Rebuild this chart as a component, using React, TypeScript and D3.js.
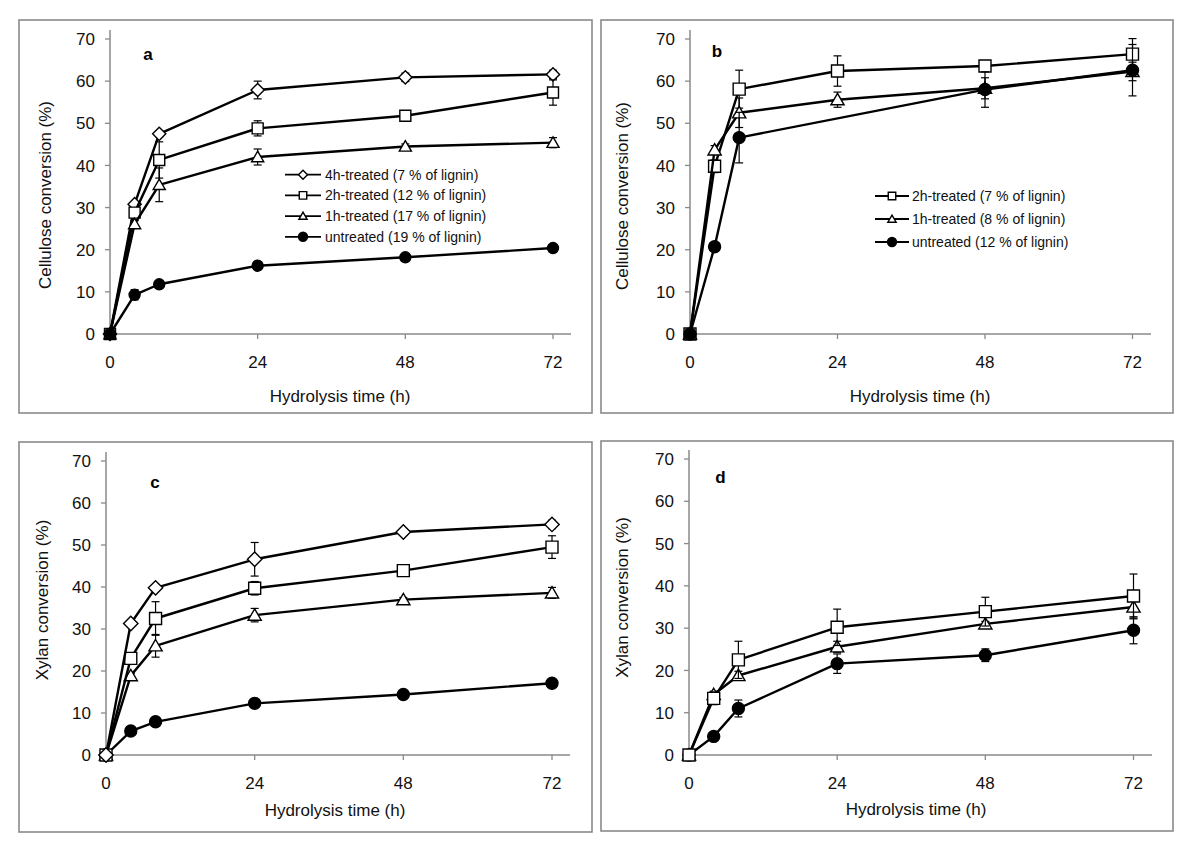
import { useEffect, useRef } from "react";
import * as d3 from "d3";

const hours = [0, 4, 8, 24, 48, 72];
const xTicks = [0, 24, 48, 72];
const yTicks = [0, 10, 20, 30, 40, 50, 60, 70];

// panel a - cellulose conversion
const celA4h = [0, 30.8, 47.5, 57.9, 60.9, 61.6];
const celA4hErr = [0, 0.6, 0.7, 2.1, 1.0, 1.0];
const celA2h = [0, 28.8, 41.3, 48.8, 51.8, 57.3];
const celA2hErr = [0, 0.8, 4.3, 1.8, 0.8, 3.0];
const celA1h = [0, 26.1, 35.4, 42.0, 44.5, 45.4];
const celA1hErr = [0, 0.8, 4.0, 1.9, 0.6, 1.2];
const celAUn = [0, 9.3, 11.8, 16.2, 18.2, 20.4];
const celAUnErr = [0, 1.2, 0.6, 0.8, 0.5, 0.5];
const legendA = [
  "4h-treated (7 % of lignin)",
  "2h-treated (12 % of lignin)",
  "1h-treated (17 % of lignin)",
  "untreated (19 % of lignin)",
];

// panel b - cellulose conversion
const celB2h = [0, 39.8, 58.1, 62.4, 63.6, 66.4];
const celB2hErr = [0, 1.5, 4.5, 3.6, 1.0, 3.7];
const celB1h = [0, 43.7, 52.5, 55.6, 58.3, 62.3];
const celB1hErr = [0, 1.0, 3.5, 1.8, 2.5, 2.2];
const celBUn = [0, 20.7, 46.6, null, 58.0, 62.6];
const celBUnErr = [0, 0.8, 6.0, 0, 4.2, 6.1];
const celBUnXErr = [0, 0.8, 0, 0, 0, 0];
const legendB = [
  "2h-treated (7 % of lignin)",
  "1h-treated (8 % of lignin)",
  "untreated (12 % of lignin)",
];

// panel c - xylan conversion
const xylC4h = [0, 31.3, 39.8, 46.6, 53.1, 54.9];
const xylC4hErr = [0, 0.5, 0.6, 4.0, 0.8, 1.0];
const xylC2h = [0, 23.0, 32.5, 39.7, 43.9, 49.5];
const xylC2hErr = [0, 0.5, 4.0, 1.6, 0.5, 2.7];
const xylC1h = [0, 18.9, 26.0, 33.3, 37.0, 38.6];
const xylC1hErr = [0, 0.5, 2.7, 1.6, 0.5, 1.3];
const xylCUn = [0, 5.7, 7.9, 12.3, 14.4, 17.1];
const xylCUnErr = [0, 0.3, 0.4, 0.6, 0.4, 0.4];

// panel d - xylan conversion
const xylD2h = [0, 13.4, 22.5, 30.2, 33.9, 37.6];
const xylD2hErr = [0, 1.5, 4.4, 4.3, 3.4, 5.2];
const xylD1h = [0, 14.3, 18.8, 25.6, 31.0, 35.0];
const xylD1hErr = [0, 0.8, 1.0, 1.3, 0.6, 2.8];
const xylDUn = [0, 4.4, 11.0, 21.6, 23.6, 29.5];
const xylDUnErr = [0, 0.5, 2.0, 2.3, 1.5, 3.2];

type Marker = "diamond" | "square" | "triangle" | "circle";
interface Series {
  values: (number | null)[];
  err: number[];
  xErr?: number[];
  marker: Marker;
  label?: string;
}

const FONT = "'Liberation Sans', Arial, sans-serif";
const GREY = "#8a8a8a";

const panels = [
  {
    letter: "a",
    frame: [19, 20, 592, 413],
    xr: [110, 553], xEnd: 571, yr: [334, 39], yTop: 30,
    letterPos: [148, 54],
    yTitle: "Cellulose conversion (%)", yTitlePos: [45, 195],
    xTitlePos: [340, 396],
    msize: 11,
    series: [
      { values: celA4h, err: celA4hErr, marker: "diamond", label: legendA[0] },
      { values: celA2h, err: celA2hErr, marker: "square", label: legendA[1] },
      { values: celA1h, err: celA1hErr, marker: "triangle", label: legendA[2] },
      { values: celAUn, err: celAUnErr, marker: "circle", label: legendA[3] },
    ] as Series[],
    legend: { x1: 285, x2: 321, mx: 303, tx: 325, y: 174.7, dy: 20.7 },
  },
  {
    letter: "b",
    frame: [601, 20, 1173, 413],
    xr: [690, 1132.5], xEnd: 1151, yr: [334, 39], yTop: 30,
    letterPos: [717, 51],
    yTitle: "Cellulose conversion (%)", yTitlePos: [622, 196],
    xTitlePos: [920, 396],
    msize: 12,
    series: [
      { values: celB2h, err: celB2hErr, marker: "square", label: legendB[0] },
      { values: celB1h, err: celB1hErr, marker: "triangle", label: legendB[1] },
      { values: celBUn, err: celBUnErr, xErr: celBUnXErr, marker: "circle", label: legendB[2] },
    ] as Series[],
    legend: { x1: 875, x2: 909, mx: 892, tx: 912, y: 196, dy: 23 },
  },
  {
    letter: "c",
    frame: [19, 442, 592, 832],
    xr: [106, 552], xEnd: 570, yr: [755, 461], yTop: 452,
    letterPos: [155, 482],
    yTitle: "Xylan conversion (%)", yTitlePos: [42, 600],
    xTitlePos: [335, 810],
    msize: 12,
    series: [
      { values: xylCUn, err: xylCUnErr, marker: "circle" },
      { values: xylC1h, err: xylC1hErr, marker: "triangle" },
      { values: xylC2h, err: xylC2hErr, marker: "square" },
      { values: xylC4h, err: xylC4hErr, marker: "diamond" },
    ] as Series[],
    legend: null,
  },
  {
    letter: "d",
    frame: [601, 441, 1173, 831],
    xr: [689, 1133.5], xEnd: 1152, yr: [755, 459], yTop: 450,
    letterPos: [720.5, 477],
    yTitle: "Xylan conversion (%)", yTitlePos: [622, 597.5],
    xTitlePos: [916, 809],
    msize: 12,
    series: [
      { values: xylDUn, err: xylDUnErr, marker: "circle" },
      { values: xylD1h, err: xylD1hErr, marker: "triangle" },
      { values: xylD2h, err: xylD2hErr, marker: "square" },
    ] as Series[],
    legend: null,
  },
];

function markerPath(m: Marker, cx: number, cy: number, s: number) {
  const h = s / 2;
  const p = d3.path();
  if (m === "diamond") {
    const d = h * 1.2;
    p.moveTo(cx, cy - d); p.lineTo(cx + d, cy); p.lineTo(cx, cy + d); p.lineTo(cx - d, cy); p.closePath();
  } else if (m === "square") {
    p.rect(cx - h, cy - h, s, s);
  } else if (m === "triangle") {
    p.moveTo(cx, cy - h * 1.05); p.lineTo(cx + h * 1.1, cy + h * 0.85); p.lineTo(cx - h * 1.1, cy + h * 0.85); p.closePath();
  } else {
    p.arc(cx, cy, h, 0, Math.PI * 2);
  }
  return p.toString();
}

function drawMarker(g: d3.Selection<SVGGElement, unknown, null, undefined>, m: Marker, cx: number, cy: number, s: number) {
  g.append("path")
    .attr("d", markerPath(m, cx, cy, s))
    .attr("fill", m === "circle" ? "#000" : "#fff")
    .attr("stroke", "#000")
    .attr("stroke-width", 1.4);
}

export default function App() {
  const ref = useRef<SVGSVGElement | null>(null);

  useEffect(() => {
    if (!ref.current) return;
    const svg = d3.select(ref.current);
    svg.selectAll("*").remove();

    svg.append("rect").attr("width", 1200).attr("height", 851).attr("fill", "#fff");

    panels.forEach((p) => {
      const g = svg.append("g");
      const x = d3.scaleLinear().domain([0, 72]).range(p.xr);
      const y = d3.scaleLinear().domain([0, 70]).range(p.yr);
      const [fx1, fy1, fx2, fy2] = p.frame;

      // frame
      g.append("rect")
        .attr("x", fx1).attr("y", fy1)
        .attr("width", fx2 - fx1).attr("height", fy2 - fy1)
        .attr("fill", "none").attr("stroke", GREY).attr("stroke-width", 1.6);

      // axes
      g.append("line")
        .attr("x1", x(0)).attr("x2", x(0)).attr("y1", p.yTop).attr("y2", y(0))
        .attr("stroke", GREY).attr("stroke-width", 1.5);
      g.append("line")
        .attr("x1", x(0)).attr("x2", p.xEnd).attr("y1", y(0)).attr("y2", y(0))
        .attr("stroke", GREY).attr("stroke-width", 1.5);

      g.selectAll(".yt").data(yTicks).join("line")
        .attr("x1", x(0) - 5).attr("x2", x(0))
        .attr("y1", (d) => y(d)).attr("y2", (d) => y(d))
        .attr("stroke", GREY).attr("stroke-width", 1.3);
      g.selectAll(".xt").data(xTicks).join("line")
        .attr("x1", (d) => x(d)).attr("x2", (d) => x(d))
        .attr("y1", y(0)).attr("y2", y(0) + 5)
        .attr("stroke", GREY).attr("stroke-width", 1.3);

      g.selectAll(".yl").data(yTicks).join("text")
        .attr("x", x(0) - 15).attr("y", (d) => y(d)).attr("dy", "0.36em")
        .attr("text-anchor", "end")
        .attr("font-family", FONT).attr("font-size", 17).attr("fill", "#111")
        .text((d) => d);
      g.selectAll(".xl").data(xTicks).join("text")
        .attr("x", (d) => x(d)).attr("y", y(0) + 27.5).attr("dy", "0.36em")
        .attr("text-anchor", "middle")
        .attr("font-family", FONT).attr("font-size", 17).attr("fill", "#111")
        .text((d) => d);

      // titles
      g.append("text")
        .attr("x", p.xTitlePos[0]).attr("y", p.xTitlePos[1]).attr("dy", "0.36em")
        .attr("text-anchor", "middle")
        .attr("font-family", FONT).attr("font-size", 17).attr("fill", "#111")
        .text("Hydrolysis time (h)");
      g.append("text")
        .attr("transform", `translate(${p.yTitlePos[0]},${p.yTitlePos[1]}) rotate(-90)`)
        .attr("dy", "0.36em")
        .attr("text-anchor", "middle")
        .attr("font-family", FONT).attr("font-size", 17).attr("fill", "#111")
        .text(p.yTitle);
      g.append("text")
        .attr("x", p.letterPos[0]).attr("y", p.letterPos[1]).attr("dy", "0.36em")
        .attr("text-anchor", "middle")
        .attr("font-family", FONT).attr("font-size", 17).attr("font-weight", "bold")
        .text(p.letter);

      const line = d3.line<[number, number]>().x((d) => x(d[0])).y((d) => y(d[1]));

      p.series.forEach((s) => {
        const pts = hours
          .map((h, i) => ({ h, v: s.values[i], e: s.err[i], xe: s.xErr ? s.xErr[i] : 0 }))
          .filter((d) => d.v !== null) as { h: number; v: number; e: number; xe: number }[];
        const sg = g.append("g");

        // error bars
        pts.filter((d) => d.e > 0).forEach((d) => {
          const cx = x(d.h);
          sg.append("line").attr("x1", cx).attr("x2", cx)
            .attr("y1", y(d.v - d.e)).attr("y2", y(d.v + d.e))
            .attr("stroke", "#000").attr("stroke-width", 1.2);
          [d.v - d.e, d.v + d.e].forEach((yy) => {
            sg.append("line").attr("x1", cx - 4).attr("x2", cx + 4)
              .attr("y1", y(yy)).attr("y2", y(yy))
              .attr("stroke", "#000").attr("stroke-width", 1.2);
          });
        });
        pts.filter((d) => d.xe > 0).forEach((d) => {
          const cy = y(d.v);
          sg.append("line").attr("x1", x(d.h - d.xe)).attr("x2", x(d.h + d.xe))
            .attr("y1", cy).attr("y2", cy)
            .attr("stroke", "#000").attr("stroke-width", 1.2);
          [d.h - d.xe, d.h + d.xe].forEach((xx) => {
            sg.append("line").attr("x1", x(xx)).attr("x2", x(xx))
              .attr("y1", cy - 4).attr("y2", cy + 4)
              .attr("stroke", "#000").attr("stroke-width", 1.2);
          });
        });

        sg.append("path")
          .attr("d", line(pts.map((d) => [d.h, d.v] as [number, number])))
          .attr("fill", "none").attr("stroke", "#000").attr("stroke-width", 2.4)
          .attr("stroke-linejoin", "round");

        pts.forEach((d) => drawMarker(sg, s.marker, x(d.h), y(d.v), p.msize));
      });

      // legend
      if (p.legend) {
        const L = p.legend;
        p.series.forEach((s, i) => {
          const ly = L.y + i * L.dy;
          g.append("line").attr("x1", L.x1).attr("x2", L.x2).attr("y1", ly).attr("y2", ly)
            .attr("stroke", "#000").attr("stroke-width", 1.8);
          drawMarker(g, s.marker, L.mx, ly, s.marker === "circle" ? 9 : 7.5);
          g.append("text")
            .attr("x", L.tx).attr("y", ly).attr("dy", "0.36em")
            .attr("font-family", FONT).attr("font-size", 14).attr("fill", "#111")
            .text(s.label || "");
        });
      }
    });
  }, []);

  return (
    <svg
      ref={ref}
      width={1200}
      height={851}
      style={{ position: "absolute", left: 0, top: 0 }}
    />
  );
}
